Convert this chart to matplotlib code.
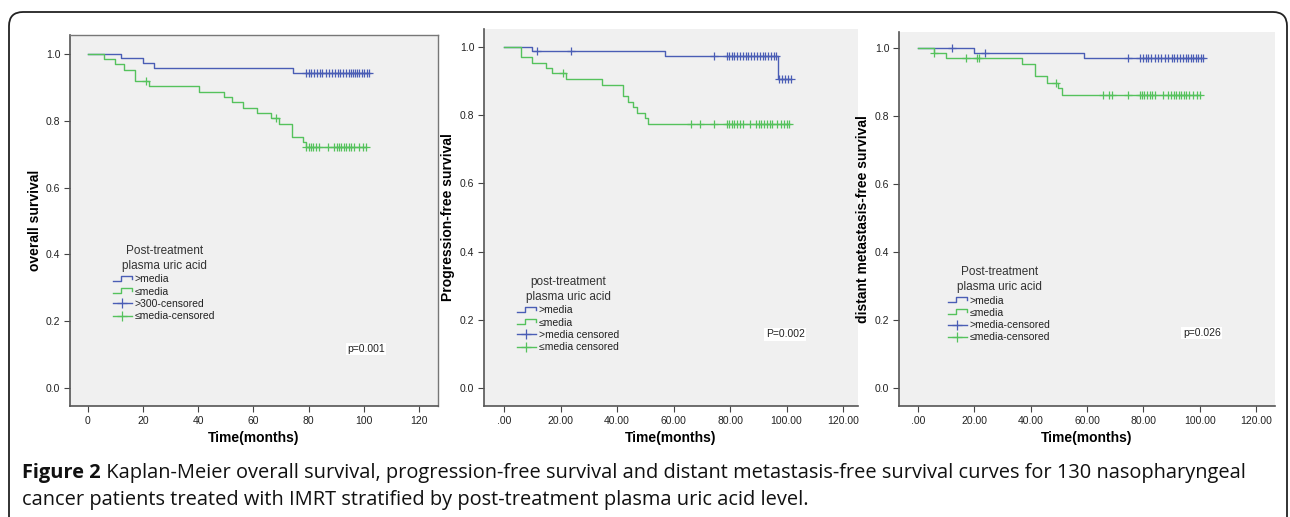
import numpy as np
import matplotlib
matplotlib.use('Agg')
import matplotlib.pyplot as plt
from matplotlib.lines import Line2D
from matplotlib.legend_handler import HandlerBase
from matplotlib.patches import FancyBboxPatch

plt.rcParams['font.family'] = ['Liberation Sans', 'DejaVu Sans']

BLUE = '#4a5db5'
GREEN = '#55c25c'

# ---- panel 1: overall survival ----
os_hi_t = [0, 12, 20.1, 24, 74.2]
os_hi_s = [1.0, 0.987, 0.972, 0.957, 0.942]
os_hi_cens = [79, 80, 81, 82, 83, 84, 85, 86.3, 87.5, 88.5, 89.5, 90.5, 91.5, 92.5,
              93.5, 94.5, 95.3, 96, 96.8, 97.5, 98.3, 99.2, 100, 101, 101.9]
os_lo_t = [0, 5.9, 9.8, 13.1, 17.0, 22, 40.2, 49.2, 52.2, 56.1, 61.2, 66.4, 69.2, 74, 77.8, 79]
os_lo_s = [1.0, 0.985, 0.970, 0.952, 0.920, 0.904, 0.887, 0.872, 0.855, 0.838, 0.822,
           0.807, 0.789, 0.752, 0.737, 0.722]
os_lo_cens = [21, 68.2, 79.2, 80, 80.8, 81.7, 82.5, 83.8, 87.1, 89.3, 90.2, 91, 91.9,
              92.8, 93.7, 94.6, 95.5, 96.4, 98.4, 99.6, 100.8]

# ---- panel 2: progression-free survival ----
pfs_hi_t = [0, 9.8, 57, 96.9]
pfs_hi_s = [1.0, 0.989, 0.974, 0.906]
pfs_hi_cens = [11.8, 23.7, 74.2, 79, 79.8, 80.6, 81.5, 82.5, 83.5, 84.5, 85.5, 86.5, 87.5,
               88.5, 89.5, 90.5, 91.5, 92.5, 93.5, 94.5, 95.4, 96.2,
               97.5, 98.5, 99.5, 100.5, 101.5]
pfs_lo_t = [0, 5.9, 9.8, 14.8, 16.9, 21.8, 34.8, 42, 43.8, 45.8, 47, 49.9, 51.1]
pfs_lo_s = [1.0, 0.970, 0.954, 0.940, 0.923, 0.906, 0.889, 0.856, 0.840, 0.825, 0.807,
            0.791, 0.773]
pfs_lo_cens = [21, 66.3, 69.2, 74.2, 79, 79.8, 80.6, 81.5, 82.5, 83.5, 84.7, 87.2, 89.3,
               90.2, 91.1, 92, 93, 94, 95, 96.5, 98, 99, 100, 101]

# ---- panel 3: distant metastasis-free survival ----
dmfs_hi_t = [0, 20, 58.9]
dmfs_hi_s = [1.0, 0.985, 0.971]
dmfs_hi_cens = [12, 23.8, 74.7, 78.8, 79.8, 80.8, 81.8, 82.8, 84, 85.2, 86.4, 87.6, 88.8,
                90, 91, 92, 93, 94, 95, 96, 96.8, 97.6, 98.5, 99.4, 100.3, 101.3]
dmfs_lo_t = [0, 5.8, 9.9, 36.8, 41.5, 45.9, 49.8, 51]
dmfs_lo_s = [1.0, 0.985, 0.970, 0.953, 0.918, 0.898, 0.881, 0.862]
dmfs_lo_cens = [5.8, 16.9, 20.8, 21.8, 48.9, 65.8, 67.9, 68.8, 74.7, 78.8, 79.6, 80.4,
                81.3, 82.2, 83.1, 84.1, 86.9, 88.9, 89.8, 90.7, 91.6, 92.5, 93.4,
                94.4, 95.3, 96.3, 97.7, 98.9, 100.1]

xticks = [0, 20, 40, 60, 80, 100, 120]
yticks = [0.0, 0.2, 0.4, 0.6, 0.8, 1.0]

panels = [
    dict(hi=(os_hi_t, os_hi_s, os_hi_cens), lo=(os_lo_t, os_lo_s, os_lo_cens),
         ylabel='overall survival', xfmt='{:.0f}', p='p=0.001',
         title='Post-treatment\nplasma uric acid',
         labels=['>media', '≤media', '>300-censored', '≤media-censored'],
         box=(70, 438, 35, 406), xlim=(-6.5, 126.9), ylim=(-0.054, 1.057),
         leg=(0.117, 0.434), ptxt=(0.804, 0.154), ylab_x=35, frame=True),
    dict(hi=(pfs_hi_t, pfs_hi_s, pfs_hi_cens), lo=(pfs_lo_t, pfs_lo_s, pfs_lo_cens),
         ylabel='Progression-free survival', xfmt='{:.2f}', p='P=0.002',
         title='post-treatment\nplasma uric acid',
         labels=['>media', '≤media', '>media censored', '≤media censored'],
         box=(484, 858, 29, 406), xlim=(-7.1, 125.3), ylim=(-0.053, 1.053),
         leg=(0.088, 0.345), ptxt=(0.805, 0.19), ylab_x=448, frame=False),
    dict(hi=(dmfs_hi_t, dmfs_hi_s, dmfs_hi_cens), lo=(dmfs_lo_t, dmfs_lo_s, dmfs_lo_cens),
         ylabel='distant metastasis-free survival', xfmt='{:.2f}', p='p=0.026',
         title='Post-treatment\nplasma uric acid',
         labels=['>media', '≤media', '>media-censored', '≤media-censored'],
         box=(899, 1275, 32, 406), xlim=(-6.7, 126.7), ylim=(-0.053, 1.047),
         leg=(0.130, 0.374), ptxt=(0.805, 0.195), ylab_x=863, frame=False),
]


class StepHandler(HandlerBase):
    # little step-shaped line used by SPSS for the survival lines in the legend
    def create_artists(self, legend, orig_handle, xdescent, ydescent, width, height,
                       fontsize, trans):
        xs = np.array([0, 0.45, 0.45, 1.0, 1.0]) * width - xdescent
        ys = np.array([0.2, 0.2, 0.9, 0.9, 0.5]) * height - ydescent
        ln = Line2D(xs, ys, color=orig_handle.get_color(), lw=orig_handle.get_linewidth())
        ln.set_transform(trans)
        return [ln]


def km(ax, t, s, cens, color):
    t = np.asarray(t)
    s = np.asarray(s)
    cens = np.asarray(cens)
    tend = max(t[-1], cens.max())
    ax.step(np.append(t, tend), np.append(s, s[-1]), where='post', color=color, lw=1.0)
    idx = np.searchsorted(t, cens, side='right') - 1
    ax.plot(cens, s[idx], ls='none', marker='+', ms=6, mew=0.9, color=color)


W, H = 1290, 517
fig = plt.figure(figsize=(W / 100, H / 100), dpi=100)

# outer rounded frame
frame = FancyBboxPatch((0.09, -0.3), 12.78, 5.35, boxstyle='round,pad=0,rounding_size=0.14',
                       transform=fig.dpi_scale_trans, fill=False, ec='#222222', lw=1.3)
fig.add_artist(frame)

for pn in panels:
    l, r, t, b = pn['box']
    ax = fig.add_axes([l / W, (H - b) / H, (r - l) / W, (b - t) / H])
    ax.set_facecolor('#f0f0f0')
    km(ax, *pn['hi'], BLUE)
    km(ax, *pn['lo'], GREEN)
    ax.set_xlim(*pn['xlim'])
    ax.set_ylim(*pn['ylim'])
    ax.set_xticks(xticks)
    ax.set_xticklabels([pn['xfmt'].format(v).lstrip('0') if pn['xfmt'] != '{:.0f}'
                        else pn['xfmt'].format(v) for v in xticks])
    ax.set_yticks(yticks)
    ax.set_yticklabels(['{:.1f}'.format(v) for v in yticks])
    ax.tick_params(direction='out', length=4, width=0.8, colors='#444444',
                   labelsize=7.5, labelcolor='#222222', pad=3)
    for side in ['left', 'bottom']:
        ax.spines[side].set_color('#555555')
        ax.spines[side].set_linewidth(1.2)
    for side in ['top', 'right']:
        if pn['frame']:
            ax.spines[side].set_color('#777777')
            ax.spines[side].set_linewidth(1.0)
        else:
            ax.spines[side].set_visible(False)

    ax.set_ylabel(pn['ylabel'], fontsize=10, fontweight='bold', va='center')
    ax.yaxis.set_label_coords(-(l - pn['ylab_x']) / (r - l), 0.5)
    ax.set_xlabel('Time(months)', fontsize=10, fontweight='bold', va='center')
    ax.xaxis.set_label_coords(0.5, -(438 - b) / (b - t))

    h_hi = Line2D([], [], color=BLUE, lw=1.0)
    h_lo = Line2D([], [], color=GREEN, lw=1.0)
    c_hi = Line2D([], [], color=BLUE, lw=1.0, marker='+', ms=7, mew=0.9)
    c_lo = Line2D([], [], color=GREEN, lw=1.0, marker='+', ms=7, mew=0.9)
    leg = ax.legend([h_hi, h_lo, c_hi, c_lo], pn['labels'],
                    handler_map={h_hi: StepHandler(), h_lo: StepHandler()},
                    loc='upper left', bbox_to_anchor=pn['leg'], frameon=False,
                    fontsize=7.5, title=pn['title'], title_fontsize=8.5,
                    handlelength=1.8, handletextpad=0.3, labelspacing=0.22,
                    borderpad=0, borderaxespad=0)
    leg.get_title().set_multialignment('center')
    leg.get_title().set_color('#333333')
    leg.get_title().set_linespacing(1.35)
    for txt in leg.get_texts():
        txt.set_color('#222222')

    ax.text(pn['ptxt'][0], pn['ptxt'][1], pn['p'], transform=ax.transAxes,
            fontsize=7.5, ha='center', va='center', color='#222222',
            bbox=dict(fc='white', ec='none', pad=1))

# caption
cap_font = ['Open Sans', 'DejaVu Sans']
cap_size = 14.4
t1 = fig.text(22 / W, 1 - 473 / H, 'Figure 2', fontsize=cap_size, fontweight='bold',
              family=cap_font, va='center', ha='left', color='#111111')
fig.axes[0].annotate(' Kaplan-Meier overall survival, progression-free survival and distant '
                     'metastasis-free survival curves for 130 nasopharyngeal',
                     xy=(1, 0), xycoords=t1, va='bottom', ha='left', fontsize=cap_size,
                     family=cap_font, color='#111111', annotation_clip=False)
fig.text(22 / W, 1 - 500 / H, 'cancer patients treated with IMRT stratified by '
         'post-treatment plasma uric acid level.', fontsize=cap_size, family=cap_font,
         va='center', ha='left', color='#111111')

fig.savefig('out.png', dpi=100)
